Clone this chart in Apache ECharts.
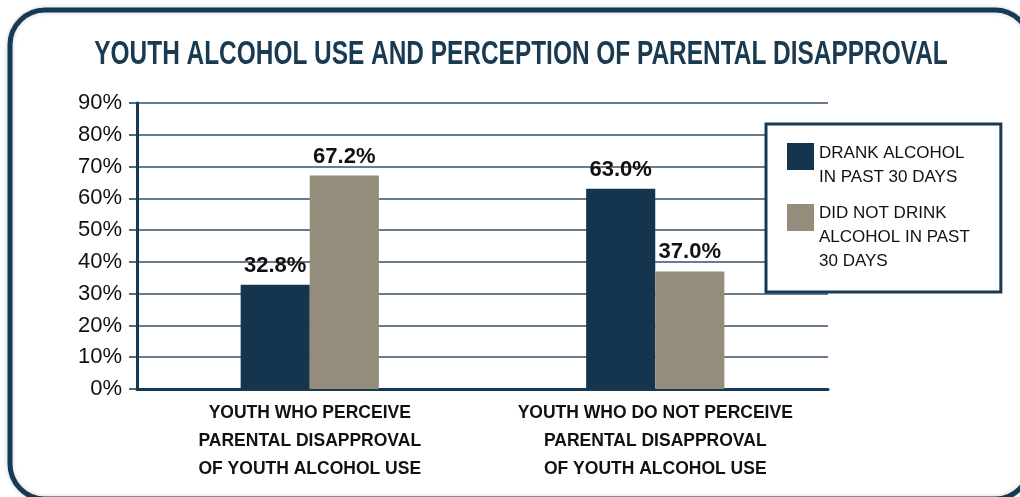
<!DOCTYPE html>
<html>
<head>
<meta charset="utf-8">
<script src="https://cdn.jsdelivr.net/npm/echarts@6/dist/echarts.min.js"></script>
<style>
  html, body { margin: 0; padding: 0; background: #fff; }
  #main { width: 1020px; height: 497px; }
</style>
</head>
<body>
<div id="main"></div>
<script>
const title = 'YOUTH ALCOHOL USE AND PERCEPTION OF PARENTAL DISAPPROVAL'
const categories = [
  'YOUTH WHO PERCEIVE\nPARENTAL DISAPPROVAL\nOF YOUTH ALCOHOL USE',
  'YOUTH WHO DO NOT PERCEIVE\nPARENTAL DISAPPROVAL\nOF YOUTH ALCOHOL USE'
]
const seriesNames = [
  'DRANK ALCOHOL\nIN PAST 30 DAYS',
  'DID NOT DRINK\nALCOHOL IN PAST\n30 DAYS'
]
const drank = [32.8, 63.0]
const notDrank = [67.2, 37.0]

const navy = '#15344d'
const khaki = '#958d7b'
const font = "'Liberation Sans', Arial, sans-serif"

function barSeries(name, values, color) {
  return {
    name: name,
    type: 'bar',
    data: values,
    barGap: '0%',
    barCategoryGap: '60%',
    itemStyle: { color: color },
    label: {
      show: true,
      position: 'top',
      distance: 8,
      formatter: p => p.value.toFixed(1) + '%',
      fontFamily: font,
      fontWeight: 'bold',
      fontSize: 22,
      color: '#111'
    }
  }
}

// legend text: a spacer line on top so the words start level with the swatch
function legendText(name) {
  const idx = seriesNames.indexOf(name)
  return '{s' + idx + '| }\n' + name
}

const chart = echarts.init(document.getElementById('main'))
chart.setOption({
  animation: false,
  graphic: [{
    type: 'rect',
    z: -1,
    shape: { x: 10, y: 10, width: 1020, height: 489, r: 35 },
    style: {
      fill: 'none',
      stroke: '#173a54',
      lineWidth: 5,
      shadowBlur: 4,
      shadowColor: 'rgba(0,0,0,0.2)'
    }
  }, {
    type: 'text',
    x: 521,
    y: 55,
    scaleX: 0.74,
    style: {
      text: title,
      x: 0,
      y: 0,
      align: 'center',
      verticalAlign: 'middle',
      fontFamily: font,
      fontWeight: 'bold',
      fontSize: 33,
      fill: '#1a3a52'
    }
  }],
  legend: {
    orient: 'vertical',
    left: 766,
    top: 124,
    itemWidth: 27,
    itemHeight: 27,
    itemGap: -27,
    padding: [0, 31, 19, 21],
    backgroundColor: '#fff',
    borderColor: '#173a54',
    borderWidth: 3,
    icon: 'rect',
    formatter: legendText,
    textStyle: {
      fontFamily: font,
      fontSize: 17,
      lineHeight: 24,
      color: '#111',
      rich: {
        s0: { fontSize: 1, lineHeight: 17 },
        s1: { fontSize: 1, lineHeight: 39 }
      }
    },
    data: seriesNames
  },
  grid: {
    left: 137,
    right: 192,
    top: 103,
    bottom: 108
  },
  xAxis: {
    type: 'category',
    data: categories,
    axisLine: { lineStyle: { color: '#173a54', width: 3 } },
    axisTick: { show: false },
    axisLabel: {
      interval: 0,
      margin: 10,
      fontFamily: font,
      fontWeight: 'bold',
      fontSize: 17.5,
      lineHeight: 28,
      color: '#111'
    }
  },
  yAxis: {
    type: 'value',
    min: 0,
    max: 90,
    interval: 10,
    axisLine: { show: true, lineStyle: { color: '#173a54', width: 3 } },
    axisTick: { show: true, length: 8, lineStyle: { color: '#173a54', width: 1.5 } },
    axisLabel: {
      formatter: '{value}%',
      margin: 15,
      fontFamily: font,
      fontSize: 22,
      color: '#111'
    },
    splitLine: { lineStyle: { color: '#34506a', width: 1.5 } }
  },
  series: [
    barSeries(seriesNames[0], drank, navy),
    barSeries(seriesNames[1], notDrank, khaki)
  ]
})
</script>
</body>
</html>
